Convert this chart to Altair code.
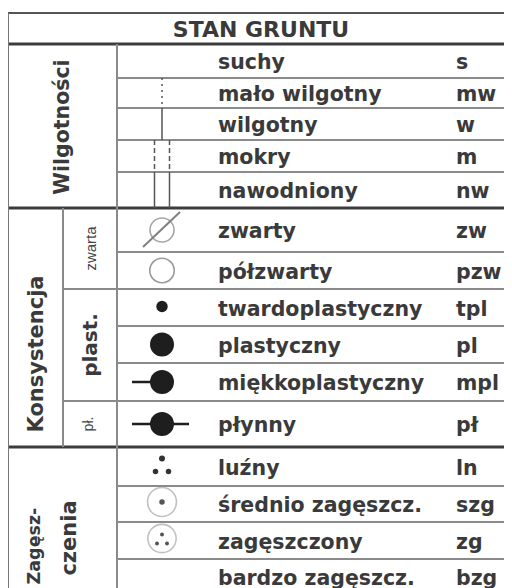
import altair as alt
import pandas as pd
import numpy as np

# ---------------- data ----------------
TITLE = "STAN GRUNTU"
names = ["suchy", "mało wilgotny", "wilgotny", "mokry", "nawodniony",
         "zwarty", "półzwarty", "twardoplastyczny", "plastyczny",
         "miękkoplastyczny", "płynny",
         "luźny", "średnio zagęszcz.", "zagęszczony", "bardzo zagęszcz."]
codes = ["s", "mw", "w", "m", "nw",
         "zw", "pzw", "tpl", "pl", "mpl", "pł",
         "ln", "szg", "zg", "bzg"]
groups = ["Wilgotności"] * 5 + ["Konsystencja"] * 6 + ["Zagęszczenia"] * 4
group_labels = {"Wilgotności": ["Wilgotności"],
                "Konsystencja": ["Konsystencja"],
                "Zagęszczenia": ["Zagęsz-", "czenia"]}
subgroups = [""] * 5 + ["zwarta", "zwarta", "plast.", "plast.", "plast.", "pł."] + [""] * 4
symbols = ["none", "dotted", "solid", "dashed2", "solid2",
           "crossed", "open", "small", "dot", "dot_left", "dot_both",
           "three", "ring_dot", "ring_three", "none"]

# ---------------- layout (page pixels) ----------------
X_LEFT, X_SUB, X_COL, X_SYM, X_NAME, X_CODE, X_RIGHT = 8, 63, 117, 162, 218, 456, 512
Y_TOP, Y_HEAD, Y_BOTTOM = 13, 44, 588
ROW_H = [34, 30, 32, 32, 36, 44, 37, 37, 37, 38, 46, 39, 36, 37, 35]
edges = Y_HEAD + np.concatenate([[0], np.cumsum(ROW_H)])
centers = (edges[:-1] + edges[1:]) / 2
TEXT_DY = 2
FONT = "DejaVu Sans"
TXT = "#3a3a3a"
INK = "#1e1e1e"
THIN = "#8a8a8a"
THICK = "#3c3c3c"

xs = alt.Scale(domain=[8, 504])
ys = alt.Scale(domain=[8, 588], reverse=True)
X = lambda f="x": alt.X(f"{f}:Q", scale=xs, axis=None)
Y = lambda f="y": alt.Y(f"{f}:Q", scale=ys, axis=None)

# ---------------- table lines ----------------
hl = [dict(x=X_LEFT, x2=X_RIGHT, y=Y_TOP, c="#555555", w=2),
      dict(x=X_LEFT, x2=X_RIGHT, y=Y_HEAD, c=THICK, w=3)]
for i in range(1, len(names)):
    y = float(edges[i])
    if groups[i] != groups[i - 1]:
        hl.append(dict(x=X_LEFT, x2=X_RIGHT, y=y, c=THICK, w=3))
    elif subgroups[i] != subgroups[i - 1]:
        hl.append(dict(x=X_SUB, x2=X_RIGHT, y=y, c=THIN, w=2))
    else:
        hl.append(dict(x=X_COL, x2=X_RIGHT, y=y, c=THIN, w=2))
hl_df = pd.DataFrame(hl)

kon = [i for i, g in enumerate(groups) if g == "Konsystencja"]
vl_df = pd.DataFrame([
    dict(x=X_LEFT, y=Y_TOP, y2=Y_BOTTOM, c="#777777", w=2),
    dict(x=X_COL, y=Y_HEAD, y2=Y_BOTTOM, c=THIN, w=2),
    dict(x=X_SUB, y=float(edges[kon[0]]), y2=float(edges[kon[-1] + 1]), c=THIN, w=2),
])

hlines = alt.Chart(hl_df).mark_rule(clip=True).encode(
    x=X(), x2="x2:Q", y=Y(),
    color=alt.Color("c:N", scale=None), strokeWidth=alt.StrokeWidth("w:Q", scale=None))
vlines = alt.Chart(vl_df).mark_rule(clip=True).encode(
    x=X(), y=Y(), y2="y2:Q",
    color=alt.Color("c:N", scale=None), strokeWidth=alt.StrokeWidth("w:Q", scale=None))

# ---------------- texts ----------------
rows_df = pd.DataFrame(dict(name=names, code=codes, y=centers + TEXT_DY))
rows_df["xn"] = X_NAME
rows_df["xc"] = X_CODE
text_style = dict(baseline="middle", font=FONT, fontWeight="bold", fontSize=20.5, color=TXT, clip=True)
name_txt = alt.Chart(rows_df).mark_text(align="left", **text_style).encode(x=X("xn"), y=Y(), text="name:N")
code_txt = alt.Chart(rows_df).mark_text(align="left", **text_style).encode(x=X("xc"), y=Y(), text="code:N")

title_df = pd.DataFrame([dict(t=TITLE, x=(X_LEFT + X_RIGHT) / 2 + 1, y=(Y_TOP + Y_HEAD) / 2 + 1)])
title_txt = alt.Chart(title_df).mark_text(align="center", baseline="middle", font=FONT,
                                          fontWeight="bold", fontSize=22, color=TXT).encode(
    x=X(), y=Y(), text="t:N")

# group labels (rotated)
glab = []
for g, lines in group_labels.items():
    idx = [i for i, gg in enumerate(groups) if gg == g]
    top, bot = float(edges[idx[0]]), float(edges[idx[-1] + 1])
    if g == "Konsystencja":
        glab.append(dict(t=lines[0], x=(X_LEFT + X_SUB) / 2 + 1, y=354, fs=21))
    elif g == "Zagęszczenia":
        glab.append(dict(t=lines[0], x=X_LEFT + 27, y=546, fs=17.5))
        glab.append(dict(t=lines[1], x=X_LEFT + 62, y=538, fs=21))
    else:
        glab.append(dict(t=lines[0], x=(X_LEFT + X_COL) / 2, y=(top + bot) / 2 + 1, fs=20.5))
glab_df = pd.DataFrame(glab)
glab_txt = alt.Chart(glab_df).mark_text(angle=270, align="center", baseline="middle", font=FONT,
                                        fontWeight="bold", color=TXT, clip=True).encode(
    x=X(), y=Y(), text="t:N", size=alt.Size("fs:Q", scale=None))

sub = []
seen = []
for s in subgroups:
    if s and s not in seen:
        seen.append(s)
sub_style = {"zwarta": (15, "normal", 0), "plast.": (20, "bold", 0), "pł.": (14, "normal", -2)}
for s in seen:
    idx = [i for i, ss in enumerate(subgroups) if ss == s]
    top, bot = float(edges[idx[0]]), float(edges[idx[-1] + 1])
    fs, fw, dx = sub_style[s]
    sub.append(dict(t=s, x=(X_SUB + X_COL) / 2 + 1 + dx, y=(top + bot) / 2, fs=fs, fw=fw))
sub_df = pd.DataFrame(sub)
sub_txt_n = alt.Chart(sub_df[sub_df.fw == "normal"]).mark_text(
    angle=270, align="center", baseline="middle", font="Liberation Sans", color="#444444").encode(
    x=X(), y=Y(), text="t:N", size=alt.Size("fs:Q", scale=None))
sub_txt_b = alt.Chart(sub_df[sub_df.fw == "bold"]).mark_text(
    angle=270, align="center", baseline="middle", font=FONT, fontWeight="bold", color=TXT).encode(
    x=X(), y=Y(), text="t:N", size=alt.Size("fs:Q", scale=None))

# ---------------- symbols ----------------
vsolid, vdotted, vdashed, diag, hrule = [], [], [], [], []
pts = []
for i, s in enumerate(symbols):
    t, b, c = float(edges[i]), float(edges[i + 1]), float(centers[i])
    if s == "dotted":
        vdotted.append(dict(x=X_SYM, y=t, y2=b))
    elif s == "solid":
        vsolid.append(dict(x=X_SYM, y=t, y2=b))
    elif s == "dashed2":
        vdashed += [dict(x=X_SYM - 7.5, y=t, y2=b), dict(x=X_SYM + 7.5, y=t, y2=b)]
    elif s == "solid2":
        vsolid += [dict(x=X_SYM - 7.5, y=t, y2=b), dict(x=X_SYM + 7.5, y=t, y2=b)]
    elif s == "crossed":
        pts.append(dict(x=X_SYM, y=c, s=576, k="open", col="#808080"))
        diag.append(dict(x=X_SYM - 19, y=c + 17, x2=X_SYM + 18, y2=c - 18))
    elif s == "open":
        pts.append(dict(x=X_SYM, y=c, s=600, k="open", col="#707070"))
    elif s == "small":
        pts.append(dict(x=X_SYM, y=c - 1, s=130, k="fill", col=INK))
    elif s == "dot":
        pts.append(dict(x=X_SYM, y=c, s=576, k="fill", col=INK))
    elif s == "dot_left":
        pts.append(dict(x=X_SYM, y=c, s=576, k="fill", col=INK))
        hrule.append(dict(x=X_SYM - 30, x2=X_SYM, y=c))
    elif s == "dot_both":
        pts.append(dict(x=X_SYM, y=c, s=576, k="fill", col=INK))
        hrule.append(dict(x=X_SYM - 30, x2=X_SYM + 27, y=c))
    elif s == "three":
        pts += [dict(x=X_SYM, y=c - 8, s=36, k="fill", col="#333333"),
                dict(x=X_SYM - 6.5, y=c + 5, s=30, k="fill", col="#333333"),
                dict(x=X_SYM + 6.5, y=c + 5, s=30, k="fill", col="#333333")]
    elif s == "ring_dot":
        pts += [dict(x=X_SYM, y=c - 2, s=840, k="open", col="#a8a8a8"),
                dict(x=X_SYM, y=c - 2, s=30, k="fill", col="#555555")]
    elif s == "ring_three":
        pts += [dict(x=X_SYM, y=c - 2, s=800, k="open", col="#a8a8a8"),
                dict(x=X_SYM, y=c - 6, s=16, k="fill", col="#555555"),
                dict(x=X_SYM - 5, y=c + 3, s=16, k="fill", col="#555555"),
                dict(x=X_SYM + 5, y=c + 3, s=16, k="fill", col="#555555")]

vl_style = dict(color="#555555", strokeWidth=1.5, clip=True)
sym_layers = []
if vsolid:
    sym_layers.append(alt.Chart(pd.DataFrame(vsolid)).mark_rule(**vl_style).encode(x=X(), y=Y(), y2="y2:Q"))
if vdotted:
    sym_layers.append(alt.Chart(pd.DataFrame(vdotted)).mark_rule(strokeDash=[2, 4], **vl_style).encode(
        x=X(), y=Y(), y2="y2:Q"))
if vdashed:
    sym_layers.append(alt.Chart(pd.DataFrame(vdashed)).mark_rule(strokeDash=[5, 3], **vl_style).encode(
        x=X(), y=Y(), y2="y2:Q"))
sym_layers.append(alt.Chart(pd.DataFrame(diag)).mark_rule(color="#808080", strokeWidth=2).encode(
    x=X(), y=Y(), x2="x2:Q", y2="y2:Q"))
sym_layers.append(alt.Chart(pd.DataFrame(hrule)).mark_rule(color=INK, strokeWidth=2.5).encode(
    x=X(), x2="x2:Q", y=Y()))
pts_df = pd.DataFrame(pts)
sym_layers.append(alt.Chart(pts_df[pts_df.k == "open"]).mark_point(
    shape="circle", filled=False, strokeWidth=1.6).encode(
    x=X(), y=Y(), size=alt.Size("s:Q", scale=None), color=alt.Color("col:N", scale=None)))
sym_layers.append(alt.Chart(pts_df[pts_df.k == "fill"]).mark_point(
    shape="circle", filled=True, opacity=1).encode(
    x=X(), y=Y(), size=alt.Size("s:Q", scale=None), color=alt.Color("col:N", scale=None)))

chart = alt.layer(
    hlines, vlines, *sym_layers, name_txt, code_txt, title_txt, glab_txt, sub_txt_n, sub_txt_b
).properties(
    width=496, height=580, padding=0,
    autosize=alt.AutoSizeParams(type="none"),
    background="white",
).configure_view(stroke=None)

chart.save("out.html", embed_options={"renderer": "svg", "actions": False})
